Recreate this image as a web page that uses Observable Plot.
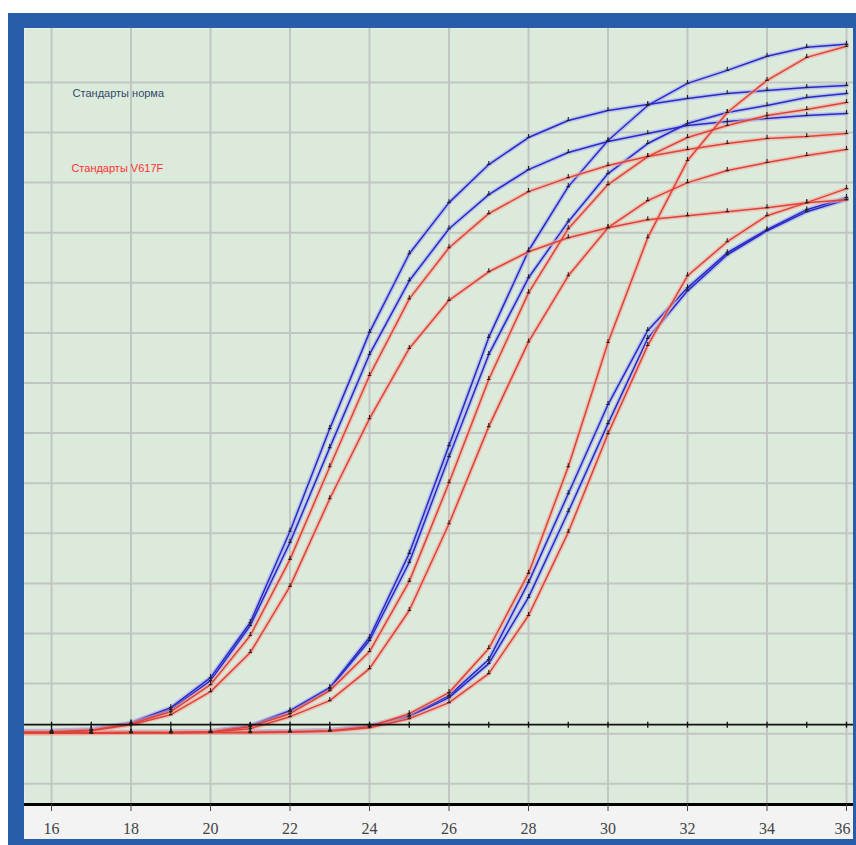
<!DOCTYPE html>
<html>
<head>
<meta charset="utf-8">
<script src="https://cdn.jsdelivr.net/npm/d3@7"></script>
<script src="https://cdn.jsdelivr.net/npm/@observablehq/plot@0.6"></script>
<style>
html, body { margin: 0; padding: 0; background: #ffffff; width: 856px; height: 845px; overflow: hidden; }
#frame { position: absolute; left: 8px; top: 13px; width: 848px; height: 832px; background: #285ea9; }
#inner { position: absolute; left: 16px; top: 15px; width: 829px; height: 811px; overflow: hidden; background: #f3f3f3; }
</style>
</head>
<body>
<div id="frame"><div id="inner"></div></div>
<script>
// ---- data ----
const cycles = [15,16,17,18,19,20,21,22,23,24,25,26,27,28,29,30,31,32,33,34,35,36];
const xTicks = [16,18,20,22,24,26,28,30,32,34,36];
const yGrid = [0,1,2,3,4,5,6,7,8,9,10,11,12,13,14];

// "norma" standards (blue)
const normA = [1.05,1.06,1.09,1.22,1.52,2.12,3.22,5.04,7.09,9.01,10.58,11.60,12.36,12.90,13.24,13.44,13.56,13.68,13.78,13.84,13.90,13.94];
const normB = [1.04,1.05,1.08,1.20,1.48,2.06,3.16,4.82,6.71,8.57,10.04,11.08,11.76,12.26,12.60,12.82,12.98,13.14,13.22,13.28,13.34,13.38];
const normC = [1.03,1.03,1.03,1.04,1.04,1.05,1.16,1.46,1.92,2.92,4.60,6.75,8.91,10.64,11.92,12.84,13.54,13.98,14.24,14.52,14.70,14.76];
const normD = [1.03,1.03,1.03,1.03,1.04,1.05,1.15,1.44,1.90,2.86,4.42,6.53,8.57,10.10,11.22,12.18,12.78,13.18,13.40,13.54,13.70,13.78];
const normE = [1.02,1.02,1.03,1.03,1.03,1.03,1.04,1.05,1.07,1.16,1.36,1.76,2.48,4.02,5.79,7.57,9.05,9.90,10.60,11.06,11.46,11.70];
const normF = [1.02,1.02,1.02,1.03,1.03,1.03,1.04,1.05,1.07,1.15,1.34,1.72,2.40,3.72,5.43,7.19,8.89,9.84,10.56,11.04,11.42,11.66];

// "V617F" standards (red)
const mutA = [1.03,1.04,1.07,1.20,1.44,1.98,2.96,4.48,6.33,8.15,9.68,10.70,11.38,11.82,12.10,12.34,12.52,12.66,12.78,12.88,12.92,12.98];
const mutB = [1.02,1.03,1.06,1.18,1.38,1.84,2.62,3.94,5.69,7.29,8.69,9.65,10.22,10.62,10.90,11.10,11.26,11.34,11.42,11.50,11.60,11.66];
const mutC = [1.02,1.02,1.02,1.03,1.03,1.04,1.14,1.40,1.86,2.64,4.04,6.01,8.07,9.80,11.08,11.96,12.52,12.90,13.14,13.34,13.46,13.60];
const mutD = [1.01,1.01,1.02,1.02,1.02,1.03,1.10,1.34,1.66,2.30,3.46,5.19,7.13,8.82,10.14,11.10,11.64,12.00,12.24,12.40,12.54,12.66];
const mutE = [1.02,1.02,1.02,1.02,1.02,1.03,1.03,1.04,1.06,1.14,1.40,1.82,2.70,4.20,6.33,8.81,10.90,12.44,13.40,14.04,14.50,14.72];
const mutF = [1.01,1.01,1.01,1.02,1.02,1.02,1.02,1.03,1.05,1.12,1.30,1.62,2.20,3.36,5.02,6.99,8.75,10.14,10.82,11.34,11.60,11.88];

const threshold = 1.18;

const noteTexts = ["Стандарты норма", "Стандарты V617F"];
const noteX = [16.53, 16.50];
const noteY = [13.77, 12.28];
const noteColors = ["#33496b", "#ff3030"];

// ---- build tables ----
const blueSeries = {normA, normB, normC, normD, normE, normF};
const redSeries = {mutA, mutB, mutC, mutD, mutE, mutF};
function toRows(obj) {
  return Object.entries(obj).flatMap(([name, vals]) => vals.map((v, i) => ({series: name, cycle: cycles[i], value: v})));
}
const blueRows = toRows(blueSeries);
const redRows = toRows(redSeries);
const thrRows = cycles.map(c => ({cycle: c, value: threshold}));
const notes = noteTexts.map((t, i) => ({text: t, x: noteX[i], y: noteY[i], color: noteColors[i]}));
const lastTick = xTicks[xTicks.length - 1];

const tickMark = {
  draw(ctx, size) {
    const r = Math.sqrt(size / Math.PI);
    ctx.moveTo(-r * 0.8, 0); ctx.lineTo(r * 0.8, 0);
    ctx.moveTo(0, 0); ctx.lineTo(0, -r * 1.6);
  }
};
const vTick = {
  draw(ctx, size) {
    const r = Math.sqrt(size / Math.PI);
    ctx.moveTo(0, -r); ctx.lineTo(0, r);
  }
};

const yMin = -0.413, yMax = 15.076;
const axisFont = {fontSize: 16, color: "#444", fontFamily: "Liberation Serif"};

const chart = Plot.plot({
  width: 829,
  height: 811,
  marginLeft: 0,
  marginRight: 0,
  marginTop: 0,
  marginBottom: 35,
  style: {background: "#f3f3f3", fontFamily: "Liberation Serif", overflow: "hidden"},
  x: {domain: [15.32, 36.176], label: null},
  y: {domain: [yMin, yMax], label: null, axis: null},
  marks: [
    Plot.frame({fill: "#dceadb", stroke: null}),
    Plot.gridX(xTicks, {stroke: "#c2c6c2", strokeOpacity: 1, strokeWidth: 2}),
    Plot.gridY(yGrid, {stroke: "#c2c6c2", strokeOpacity: 1, strokeWidth: 2}),
    // blue curves
    Plot.line(blueRows, {x: "cycle", y: "value", z: "series", stroke: "#a2a8f0", strokeOpacity: 0.6, strokeWidth: 4.5, clip: true}),
    Plot.line(blueRows, {x: "cycle", y: "value", z: "series", stroke: "#2a2ac6", strokeWidth: 1.5, clip: true}),
    // red curves
    Plot.line(redRows, {x: "cycle", y: "value", z: "series", stroke: "#f3a79c", strokeOpacity: 0.6, strokeWidth: 4.5, clip: true}),
    Plot.line(redRows, {x: "cycle", y: "value", z: "series", stroke: "#dc4438", strokeWidth: 1.5, clip: true}),
    // markers
    Plot.dot(blueRows, {x: "cycle", y: "value", symbol: tickMark, r: 2.2, stroke: "#222", strokeWidth: 1.1, fill: "none", clip: true}),
    Plot.dot(redRows, {x: "cycle", y: "value", symbol: tickMark, r: 2.2, stroke: "#222", strokeWidth: 1.1, fill: "none", clip: true}),
    // threshold
    Plot.ruleY([threshold], {stroke: "#111", strokeWidth: 1.8}),
    Plot.dot(thrRows, {x: "cycle", y: "value", symbol: vTick, r: 3, stroke: "#111", strokeWidth: 1.3, clip: true}),
    // notes
    Plot.text(notes, {x: "x", y: "y", text: "text", fill: "color", textAnchor: "start", fontSize: 11, fontFamily: "Liberation Sans"}),
    // bottom axis line
    Plot.ruleY([yMin], {stroke: "#000", strokeWidth: 3}),
    Plot.axisX(xTicks, {anchor: "bottom", tickSize: 7, tickPadding: 11, tickFormat: d => (d === lastTick ? "" : String(d)), ...axisFont}),
    Plot.axisX([lastTick], {anchor: "bottom", tickSize: 0, tickPadding: 18, dx: -4, ...axisFont})
  ]
});
document.getElementById("inner").appendChild(chart);
</script>
</body>
</html>
